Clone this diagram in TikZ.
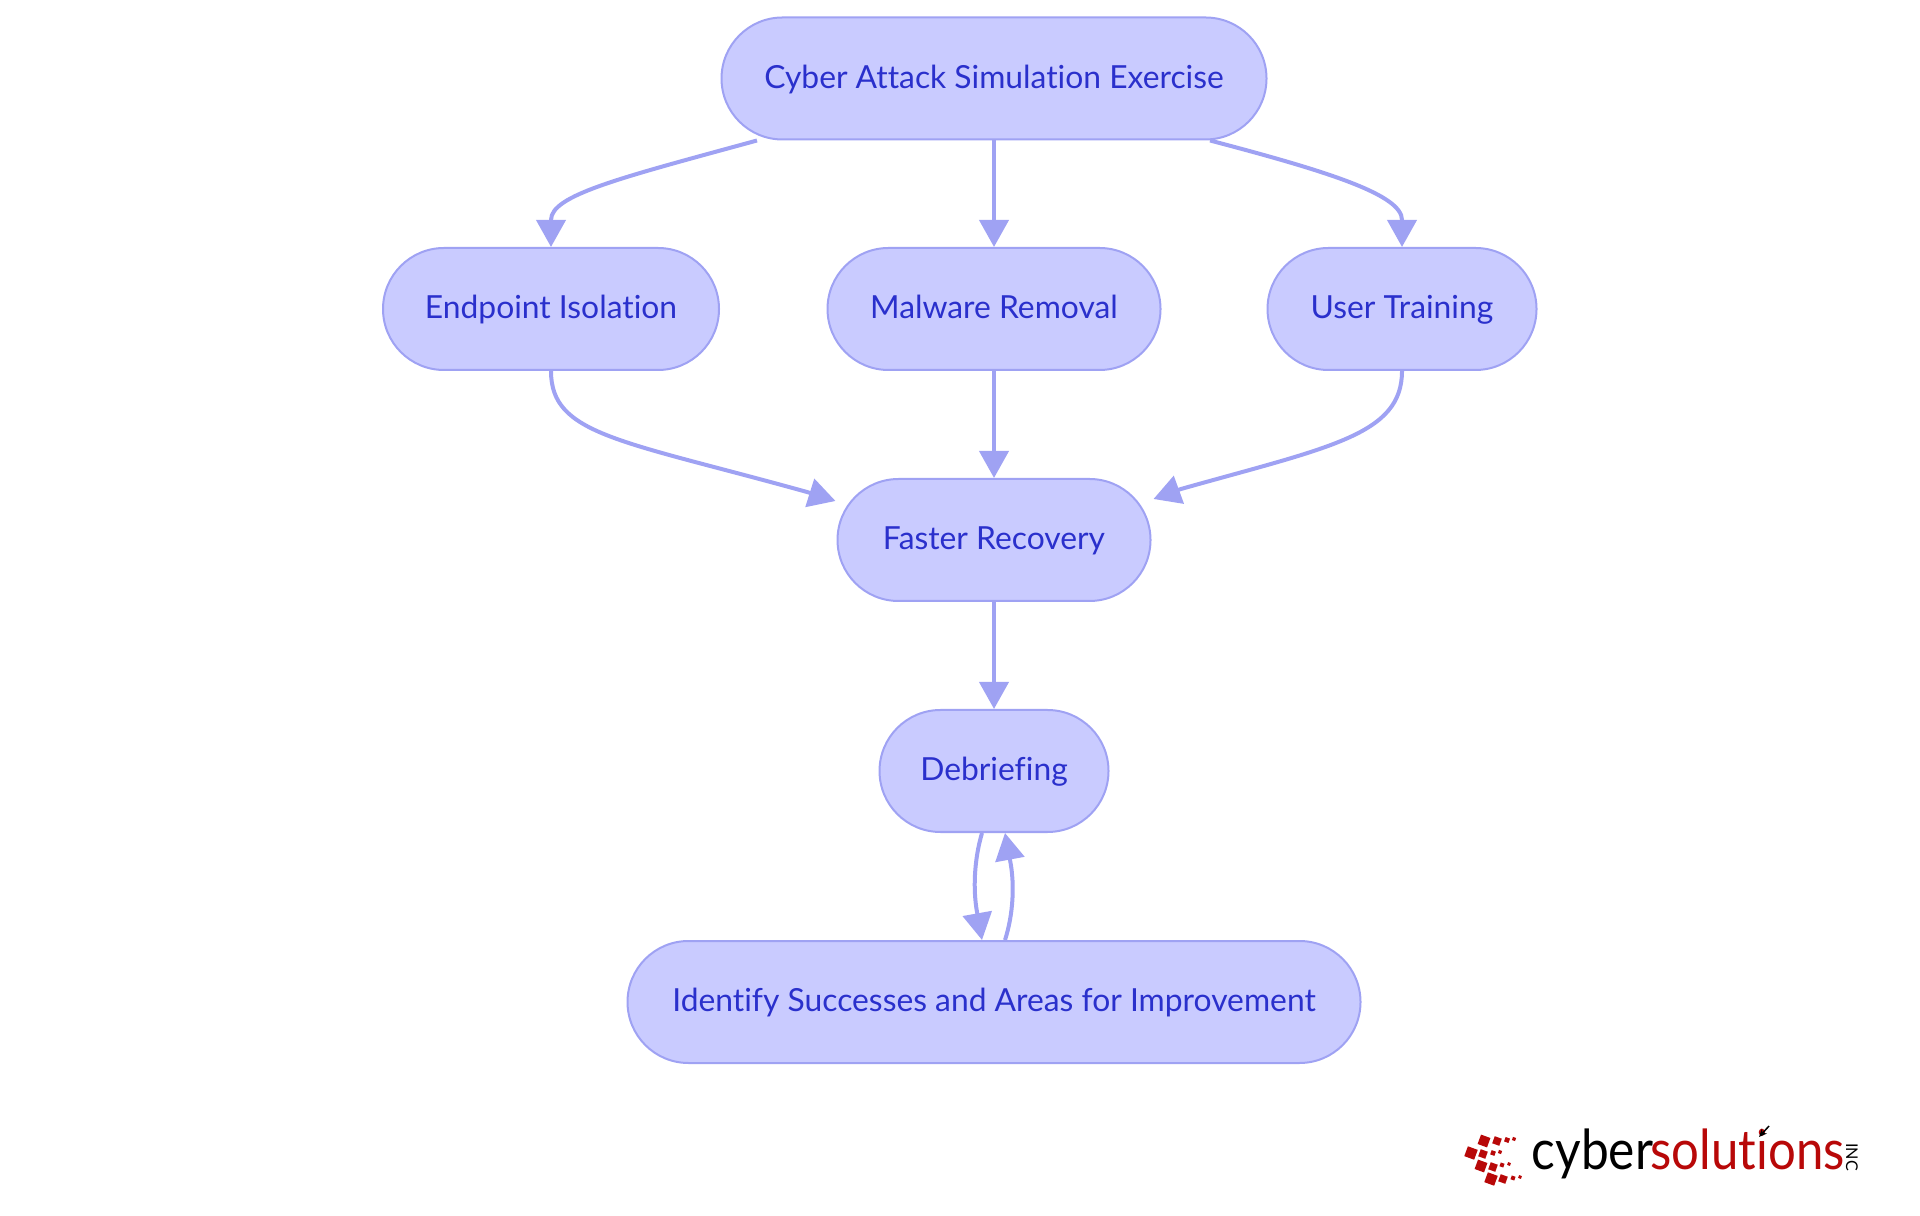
\documentclass[tikz,border=0pt]{standalone}
\usepackage{xcolor}
\usepackage{fontspec}
\setmainfont[Ligatures=NoCommon]{Lato}
\usetikzlibrary{calc,arrows.meta}
\definecolor{boxfill}{HTML}{C9CBFF}
\definecolor{boxline}{HTML}{9FA2F3}
\definecolor{boxtext}{HTML}{2A30CC}
\definecolor{logored}{HTML}{B80808}

\begin{document}
\begin{tikzpicture}[
  box/.style={draw=boxline, fill=boxfill, line width=0.02cm, rounded corners=0.61cm, minimum height=1.22cm, inner sep=0pt, text=boxtext, text height=1.5ex, text depth=0.4ex, font=\fontsize{9.05}{10}\selectfont},
  link/.style={draw=boxline, line width=0.04cm, -{Triangle[length=0.27cm, width=0.29cm]}},
  tile/.style={fill=logored, inner sep=0pt, rotate=-20},
  mark word/.style={inner sep=0pt, anchor=base west, xscale=#1, transform shape, font=\fontsize{15.7}{16}\selectfont}
]
\useasboundingbox (0,0) rectangle (19.2,12.15);
\node[box, minimum width=5.45cm] (Ex) at (9.94,11.365) {Cyber Attack Simulation Exercise};
\node[box, minimum width=3.36cm] (Iso) at (5.51,9.06) {Endpoint Isolation};
\node[box, minimum width=3.33cm] (Mal) at (9.94,9.06) {Malware Removal};
\node[box, minimum width=2.69cm] (Tr) at (14.02,9.06) {User Training};
\node[box, minimum width=3.13cm] (Rec) at (9.94,6.75) {Faster Recovery};
\node[box, minimum width=2.29cm] (Deb) at (9.94,4.44) {Debriefing};
\node[box, minimum width=7.33cm] (Imp) at (9.94,2.13) {Identify Successes and Areas for Improvement};
% first row
\draw[link] ($(Ex.south)+(-2.37,0)$) .. controls (6.2,10.37) and (5.51,10.2) .. ($(Iso.north)+(0,0.27)$) -- (Iso.north);
\draw[link] (Ex) -- (Mal);
\draw[link] ($(Ex.south)+(2.16,0)$) .. controls (13.3,10.43) and (14.02,10.2) .. ($(Tr.north)+(0,0.27)$) -- (Tr.north);
% into recovery
\draw[link] (Iso.south) .. controls (5.51,7.8) and (6.2,7.75) .. (8.07,7.23) -- ($(Rec.west)+(-0.01,0.39)$);
\draw[link] (Mal) -- (Rec);
\draw[link] (Tr.south) .. controls (14.02,7.8) and (13.3,7.68) .. (11.81,7.26) -- ($(Rec.east)+(0.02,0.41)$);
\draw[link] (Rec) -- (Deb);
% loop
\draw[link] ($(Deb.south)+(-0.12,0)$) .. controls (9.74,3.55) and (9.73,3.25) .. (9.77,3.03) -- ($(Imp.north)+(-0.12,0)$);
\draw[link] ($(Imp.north)+(0.11,0)$) .. controls (10.13,3) and (10.15,3.3) .. (10.1,3.55) -- ($(Deb.south)+(0.11,0)$);
% logo
\foreach \x/\y/\s [count=\n] in {14.84/0.74/0.10, 14.97/0.74/0.075, 15.07/0.75/0.047, 15.14/0.76/0.033,
  14.71/0.62/0.105, 14.83/0.61/0.075, 14.93/0.62/0.045, 15.00/0.63/0.033,
  14.81/0.49/0.10, 14.93/0.48/0.075, 15.02/0.50/0.04, 15.09/0.51/0.03,
  14.91/0.36/0.105, 15.03/0.36/0.075, 15.13/0.37/0.04, 15.20/0.38/0.03} {
  \node[tile, minimum size=\s cm] (T\n) at (\x,\y) {};
}
\node[mark word=0.9, text=black] (Cy) at (15.31,0.46) {cyber};
\node[mark word=0.89, text=logored] (So) at (16.5,0.46) {solutions};
\node[inner sep=0pt, rotate=-90, font=\fontsize{4.6}{5}\selectfont] (Inc) at (18.52,0.58) {INC};
\coordinate (Ar) at (17.69,0.89);
\draw[line width=0.015cm, -{Stealth[length=0.08cm, width=0.07cm]}] (Ar) -- (17.59,0.78);
\end{tikzpicture}
\end{document}
